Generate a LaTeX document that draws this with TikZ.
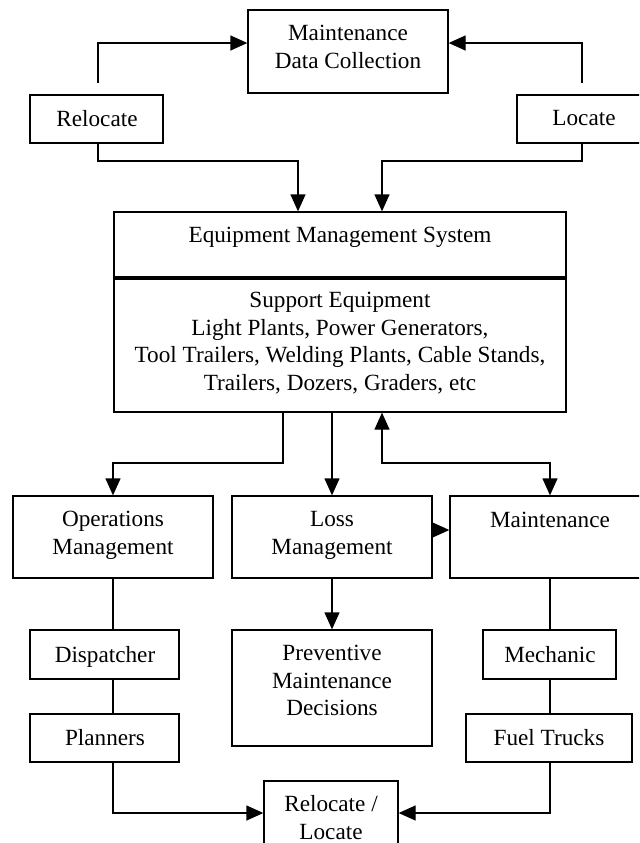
\documentclass[tikz,border=0pt]{standalone}
\usepackage{fontspec}
\setmainfont{Liberation Serif}
\usetikzlibrary{arrows.meta,fit,calc}
\tikzset{
  x=0.5pt, y=-0.5pt,
  lw/.style={line width=0.65pt},
  box/.style={draw, lw, inner sep=0pt, rectangle},
  txt/.style={font=\fontsize{11.6pt}{13.8pt}\selectfont, align=center, anchor=north, inner sep=0pt},
  arr/.style={lw, -{Triangle[length=8.5pt,width=7.5pt]}},
  arrtwo/.style={lw, {Triangle[length=8.5pt,width=7.5pt]}-{Triangle[length=8.5pt,width=7.5pt]}},
  ln/.style={lw}
}
\begin{document}
\begin{tikzpicture}
\useasboundingbox (0,0) rectangle (639,843);
\clip (0,0) rectangle (639,843);

% boxes
\node[box, fit={(248,10) (448,93)}] (mdc) {};
\node[box, fit={(30,95) (163,143)}] (reloc) {};
\node[box, fit={(517,95) (651,143)}] (loc) {};
\node[box, fit={(114,212) (566,277)}] (ems) {};
\node[box, fit={(114,279) (566,412)}] (sup) {};
\node[box, fit={(13,496) (213,578)}] (ops) {};
\node[box, fit={(232,496) (432,578)}] (loss) {};
\node[box, fit={(450,496) (650,578)}] (maint) {};
\node[box, fit={(30,630) (179,679)}] (disp) {};
\node[box, fit={(483,630) (616,679)}] (mech) {};
\node[box, fit={(30,714) (179,762)}] (plan) {};
\node[box, fit={(466,714) (632,762)}] (fuel) {};
\node[box, fit={(232,630) (432,746)}] (pmd) {};
\node[box, fit={(264,781) (398,863)}] (rl) {};

% texts
\node[txt] (mdcT) at (348,25) {Maintenance\\Data Collection};
\node[txt] (relocT) at (97,110) {Relocate};
\node[txt] (locT) at (584,110) {Locate};
\node[txt] (emsT) at (340,227) {Equipment Management System};
\node[txt] (supT) at (340,292) {Support Equipment\\Light Plants, Power Generators,\\Tool Trailers, Welding Plants, Cable Stands,\\Trailers, Dozers, Graders, etc};
\node[txt] (opsT) at (113,511) {Operations\\Management};
\node[txt] (lossT) at (332,511) {Loss\\Management};
\node[txt] (maintT) at (550,512) {Maintenance};
\node[txt] (dispT) at (105,646) {Dispatcher};
\node[txt] (mechT) at (550,646) {Mechanic};
\node[txt] (planT) at (105,729) {Planners};
\node[txt] (fuelT) at (549,729) {Fuel Trucks};
\node[txt] (pmdT) at (332,645) {Preventive\\Maintenance\\Decisions};
\node[txt] (rlT) at (331,795) {Relocate /\\Locate};

% helper coordinates
\coordinate (r1) at (98,83);
\coordinate (l1) at (582,83);
\coordinate (a43) at (0,43);
\coordinate (h1) at (298,161);
\coordinate (h2) at (382,161);
\coordinate (v1) at (283,463);
\coordinate (v2) at (382,463);
\coordinate (a530) at (0,530);
\coordinate (a813) at (0,813);

% connectors
\draw[arr] (r1) |- (mdc.west |- a43);
\draw[arr] (l1) |- (mdc.east |- a43);
\draw[arr] (r1 |- reloc.south) |- (h1) -- (h1 |- ems.north);
\draw[arr] (l1 |- loc.south) |- (h2) -- (h2 |- ems.north);
\draw[arr] (v1 |- sup.south) -- (v1) -| (ops.north);
\draw[arr] (sup.south -| loss.north) -- (loss.north);
\draw[arrtwo] (v2 |- sup.south) -- (v2) -| (maint.north);
\draw[arr] (loss.east |- a530) -- (maint.west |- a530);
\draw[ln] (ops.south) -- (ops.south |- disp.north);
\draw[ln] (ops.south |- disp.south) -- (ops.south |- plan.north);
\draw[arr] (loss.south) -- (pmd.north);
\draw[ln] (maint.south) -- (maint.south |- mech.north);
\draw[ln] (maint.south |- mech.south) -- (maint.south |- fuel.north);
\draw[arr] (ops.south |- plan.south) |- (rl.west |- a813);
\draw[arr] (maint.south |- fuel.south) |- (rl.east |- a813);
\end{tikzpicture}
\end{document}
